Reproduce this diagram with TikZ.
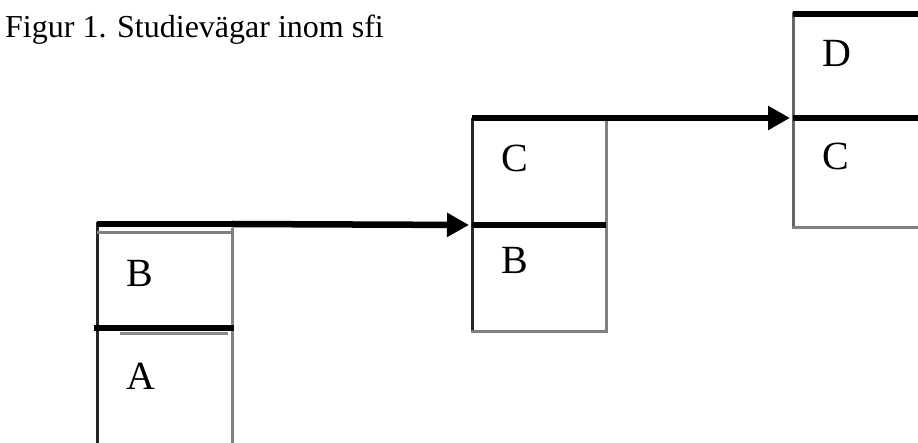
\documentclass[tikz,border=0pt]{standalone}
\usepackage{fontspec}
\setmainfont{Liberation Serif}
\usetikzlibrary{arrows.meta}
\begin{document}
\begin{tikzpicture}[x=1pt,y=-1pt,
  heavy/.style={line width=6.5pt, black, line cap=butt},
  darkedge/.style={line width=3pt, black!85},
  grayedge/.style={line width=3pt, black!50},
  shadowline/.style={line width=3pt, black!45},
  letter/.style={anchor=base west, inner sep=0pt, font=\fontsize{40}{40}\selectfont},
  titlefont/.style={anchor=base west, inner sep=0pt, font=\fontsize{32}{32}\selectfont},
  conn/.style={line width=6.5pt, black, -{Triangle[length=22pt,width=23pt]}, shorten >=3pt},
]
\useasboundingbox (0,0) rectangle (918,443);

\node[titlefont] (title) at (5,38) {Figur 1. Studievägar inom sfi};

% named corner points
\coordinate (b1tl) at (97,224);
\coordinate (b1tr) at (232,224);
\coordinate (b2ml) at (472,225);
\coordinate (b2mr) at (606,225);
\coordinate (b2tl) at (472,118);
\coordinate (b3ml) at (793,118);
\coordinate (b3mr) at (918,118);
\coordinate (b3tl) at (793,14);
\coordinate (b3tr) at (918,14);

% ---- box 1 (B / A)
\draw[darkedge] (97,222) -- (97,443);
\draw[grayedge] (232,228) -- (232,443);
\draw[grayedge] (97,233) -- (232,233);
\draw[heavy] (94,328) -- (234,328);
\draw[shadowline] (120,334) -- (228,334);
\node[letter] (bB) at (126,287) {B};
\node[letter] (bA) at (126,389) {A};

% ---- box 2 (C / B)
\draw[darkedge] (472,118) -- (472,333);
\draw[grayedge] (606,118) -- (606,333);
\draw[grayedge] (470.5,332) -- (607.5,332);
\draw[heavy] (472,225) -- (b2mr);
\node[letter] (cC) at (501,172) {C};
\node[letter] (cB) at (501,274) {B};

% ---- box 3 (D / C)
\draw[black!60, line width=3pt] (793,12) -- (793,229);
\draw[grayedge] (791.5,228) -- (918,228);
\draw[heavy] (b3tl) -- (b3tr);
\draw[heavy] (b3ml) -- (b3mr);
\node[letter] (dD) at (822,67) {D};
\node[letter] (dC) at (822,170) {C};

% ---- connectors
\draw[heavy] (b1tl) -- (b1tr);
\draw[conn] (b1tr) -- (b2ml);
\draw[heavy] (b2tl) -- (606,118);
\draw[conn] (606,118) -- (b3ml);
\end{tikzpicture}
\end{document}
